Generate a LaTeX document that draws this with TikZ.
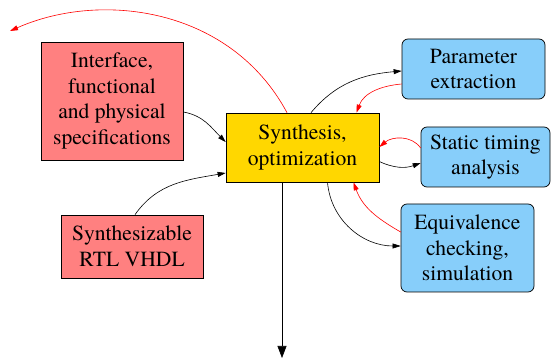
\documentclass[tikz,border=0pt]{standalone}
\usepackage{fontspec}
\newfontfamily\labelfont{texgyretermes}[Extension=.otf, UprightFont=*-regular]
\usetikzlibrary{arrows.meta,calc}
\definecolor{specpink}{HTML}{FF8080}
\definecolor{toolblue}{HTML}{87CEFA}
\definecolor{synthgold}{HTML}{FFD700}
\begin{document}
\begin{tikzpicture}[x=1pt,y=1pt,
  every node/.style={font=\labelfont\fontsize{21.6}{25.7}\selectfont, align=center, inner sep=0pt},
  specbox/.style={draw=black, line width=0.7pt, fill=specpink},
  toolbox/.style={draw=black, line width=0.7pt, fill=toolblue, rounded corners=6pt},
  synthbox/.style={draw=black, line width=0.7pt, fill=synthgold},
  flow/.style={draw=black, line width=0.6pt, -{Triangle[length=8pt,width=5pt]}},
  back/.style={draw=red, line width=0.6pt, -{Triangle[length=8pt,width=5pt]}}]
\useasboundingbox (0,0) rectangle (552,359);

% specification inputs
\node[specbox, minimum width=142pt, minimum height=118pt] (iface) at (112,258)
  {Interface,\\functional\\and physical\\specifications};
\node[specbox, minimum width=142pt, minimum height=63pt] (rtl) at (132,112.5)
  {Synthesizable\\RTL VHDL};

% central synthesis step
\node[synthbox, minimum width=153pt, minimum height=69pt] (synth) at (302.5,211.5)
  {Synthesis,\\optimization};

% analysis tools
\node[toolbox, minimum width=143pt, minimum height=60pt] (param) at (473.5,290)
  {Parameter\\extraction};
\node[toolbox, minimum width=129pt, minimum height=60pt] (sta) at (485.5,202)
  {Static timing\\analysis};
\node[toolbox, minimum width=133pt, minimum height=88pt] (equiv) at (467.5,111)
  {Equivalence\\checking,\\simulation};

% free ends
\coordinate (fbend) at (10,328);
\coordinate (netlist) at (282,1);

% inputs into synthesis
\draw[flow] ($(iface.east)+(0,-11)$) to[out=-10,in=135] ($(synth.west)+(0,5.5)$);
\draw[flow] ($(rtl.north)+(3,0)$) to[out=55,in=190] ($(synth.west)+(0,-25.5)$);

% feedback to the specification level
\draw[back] ($(synth.north)+(-15.5,0)$) .. controls +(-57,106) and +(90,40) .. (fbend);

% synthesis <-> tools
\draw[flow] ($(synth.north)+(8.5,0)$) to[out=50,in=185] ($(param.west)+(0,-2)$);
\draw[back] ($(param.west)+(0,-15)$) to[out=185,in=70] ($(synth.north)+(54,0)$);
\draw[back] ($(sta.west)+(0,9)$) to[out=125,in=40] ($(synth.east)+(0,0.5)$);
\draw[flow] ($(synth.east)+(0,-14)$) to[out=-25,in=200] ($(sta.west)+(0,-6)$);
\draw[flow] ($(synth.south)+(25,0)$) to[out=-85,in=180] ($(equiv.west)+(0,2)$);
\draw[back] ($(equiv.west)+(0,16)$) to[out=150,in=-70] ($(synth.south)+(51,0)$);

% result
\draw[draw=black, line width=0.6pt, -{Triangle[length=12pt,width=9pt]}]
  ($(synth.south)+(-20.5,0)$) -- (netlist);
\end{tikzpicture}
\end{document}
